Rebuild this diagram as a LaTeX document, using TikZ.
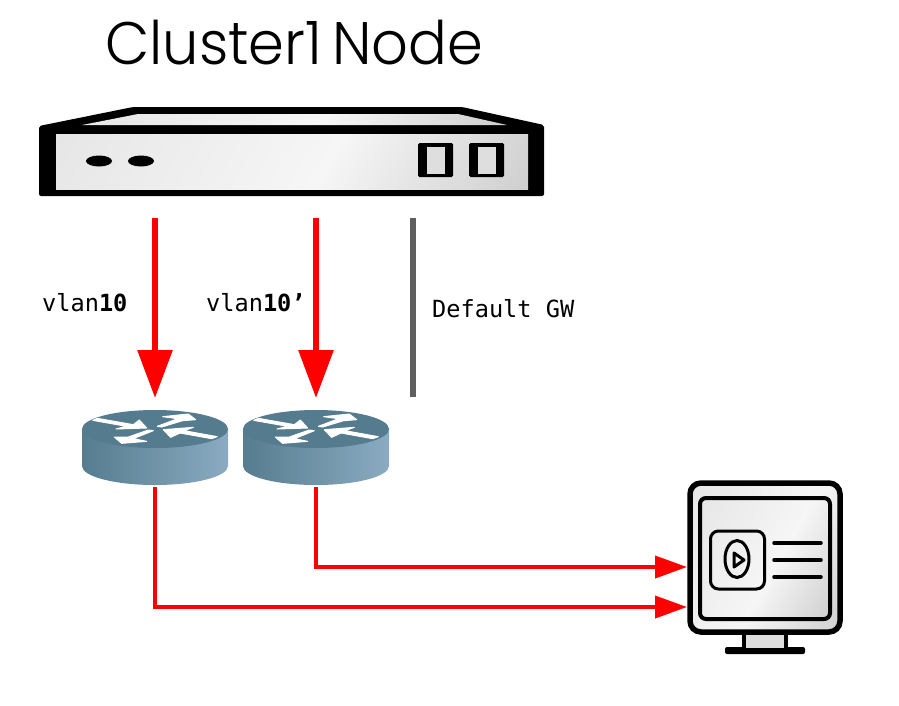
\documentclass[tikz,border=0pt]{standalone}
\usepackage{fontspec}
\setmonofont{DejaVu Sans Mono}
\newfontfamily\titlefont{Poppins Light}
\usetikzlibrary{arrows.meta,calc}
\definecolor{netred}{HTML}{FF0000}
\definecolor{gwgrey}{HTML}{5F5F5F}
\definecolor{routertop}{HTML}{557B8E}
\definecolor{routerleft}{HTML}{567C8F}
\definecolor{routerright}{HTML}{8AABC1}
\definecolor{sa}{HTML}{E6E6E6}
\definecolor{sb}{HTML}{F6F6F6}
\definecolor{sc}{HTML}{CECECE}
\definecolor{portfill}{HTML}{DEDEDE}
\pgfdeclarehorizontalshading{silvershade}{100bp}{color(0bp)=(sa); color(15bp)=(sa); color(55bp)=(sb); color(85bp)=(sc); color(100bp)=(sc)}
\tikzset{
  iconbox/.style={inner sep=0pt,outer sep=0pt},
  label/.style={font=\ttfamily\fontsize{23.6}{26}\selectfont,inner sep=0pt,anchor=base west,text=black},
  bigarrow/.style={draw=netred,line width=6pt,-{Triangle[length=48pt,width=34pt]}},
  smallarrow/.style={draw=netred,line width=4pt,-{Triangle[length=32pt,width=22pt]}},
  gwline/.style={draw=gwgrey,line width=6pt},
  silver/.style={shading=silvershade,shading angle=-30},
  whitearrow/.style={fill=white,draw=white,line width=1pt,line join=round},
  pics/router/.style={code={
    \path[left color=routerleft,right color=routerright]
      (-73,0) -- (-73,38) arc[x radius=73,y radius=-19,start angle=180,end angle=360] -- (73,0)
      arc[x radius=73,y radius=19,start angle=0,end angle=180] -- cycle;
    \fill[routertop] (0,1) ellipse[x radius=73,y radius=19];
    \begin{scope}[xscale=1/3,yscale=1/3,shift={(-225,-70)}]
      \filldraw[whitearrow] (38,47) -- (52,41) -- (160,60) -- (178,46) -- (200,70) -- (108,73) -- (140,65) -- cycle;
      \filldraw[whitearrow] (232,65) -- (293,42) -- (248,36) -- (325,28) -- (347,45) -- (308,48) -- (245,67) -- cycle;
      \filldraw[whitearrow] (412,96) -- (395,102) -- (300,85) -- (272,98) -- (250,75) -- (340,68) -- (312,78) -- cycle;
      \filldraw[whitearrow] (220,78) -- (160,102) -- (200,110) -- (125,116) -- (103,97) -- (145,97) -- (205,76) -- cycle;
    \end{scope}
  }}
}
\begin{document}
\begin{tikzpicture}[x=1pt,y=-1pt]
\path[use as bounding box] (0,0) rectangle (899,705);

% server
\fill[black,rounded corners=2pt] (39,126) -- (133,107) -- (462,107) -- (544,125) -- (544,196) -- (39,196) -- cycle;
\path[silver] (82,125) -- (138,114) -- (458,114) -- (507,125) -- cycle;
\path[silver] (56,134) rectangle (528,189);
\fill[black] (99,161) ellipse[x radius=13,y radius=5.5];
\fill[black] (141,161) ellipse[x radius=13,y radius=5.5];
\fill[black,rounded corners=1.5pt] (418,143) rectangle (453,177);
\fill[black,rounded corners=1.5pt] (469,143) rectangle (504,177);
\fill[portfill] (427,147) rectangle (445,174);
\fill[portfill] (478,147) rectangle (496,174);
\node[iconbox,minimum width=505pt,minimum height=89pt] (server) at (291.5,151.5) {};

% routers
\pic at (155,428) {router};
\pic at (316,428) {router};
\node[iconbox,minimum width=146pt,minimum height=75pt] (r1) at (155,447.5) {};
\node[iconbox,minimum width=146pt,minimum height=75pt] (r2) at (316,447.5) {};

% monitor
\fill[black,rounded corners=2pt] (725,647) rectangle (805,654);
\fill[portfill] (744,632) rectangle (786,648);
\draw[black,line width=4.5pt] (744,632) -- (744,648) (786,632) -- (786,648);
\path[silver,draw=black,line width=5.5pt,rounded corners=11pt] (690,483) rectangle (840,632);
\path[silver,draw=black,line width=4pt,rounded corners=6pt] (700,498) rectangle (830,619);
\draw[black,line width=3pt,rounded corners=8pt] (710.5,531) rectangle (764.5,589);
\draw[black,line width=3pt] (737,559) ellipse[x radius=12,y radius=18.5];
\draw[black,line width=3pt,line join=round] (734,553) -- (734,567) -- (744,560) -- cycle;
\draw[black,line width=3.5pt,line cap=round] (774,543) -- (821,543) (774,560) -- (821,560) (774,577) -- (821,577);
\node[iconbox,minimum width=156pt,minimum height=174pt] (monitor) at (765,567) {};

% title and labels
\node[font=\titlefont\fontsize{60}{64}\selectfont,inner sep=0pt,anchor=base west] (title) at (105,64) {\scalebox{.958}[1]{Cluster1\hspace{-6pt} Node}};
\node[label] (lab1) at (42,311) {vlan\textbf{10}};
\node[label] (lab2) at (206,311) {vlan\textbf{10’}};
\node[label] (lab3) at (432,317) {Default GW};

% connectors
\coordinate (gwa) at (413,218);
\coordinate (gwb) at (413,397);
\coordinate (m1) at (687,567);
\coordinate (m2) at (687,607);
\draw[bigarrow,shorten <=22pt,shorten >=12pt] (r1.center |- server.south) -- (r1.north);
\draw[bigarrow,shorten <=22pt,shorten >=12pt] (r2.center |- server.south) -- (r2.north);
\draw[gwline] (gwa) -- (gwb);
\draw[smallarrow,shorten <=2pt] (r2.south) |- (m1);
\draw[smallarrow,shorten <=2pt] (r1.south) |- (m2);
\end{tikzpicture}
\end{document}
